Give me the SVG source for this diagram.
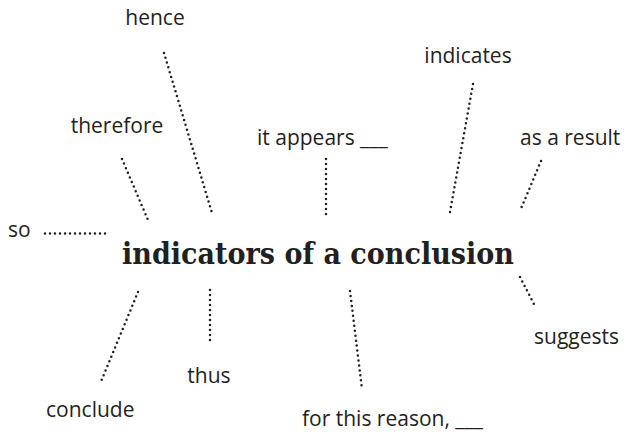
<svg xmlns="http://www.w3.org/2000/svg" width="624" height="433" viewBox="0 0 624 433">
<style>
.lbl{font-family:"Open Sans","Liberation Sans",sans-serif;font-size:21px;fill:#231f20}
.title{font-family:"DejaVu Serif","Liberation Serif",serif;font-weight:bold;font-size:29px;fill:#231f20}
.dot{stroke:#231f20;stroke-width:2.5;stroke-linecap:round;stroke-dasharray:0 5;fill:none}
</style>
<rect width="624" height="433" fill="#fff"/>
<g id="connectors">
<line class="dot" x1="164" y1="53" x2="212" y2="213"/>
<line class="dot" x1="122" y1="159" x2="148" y2="220"/>
<line class="dot" x1="326" y1="159" x2="326" y2="218"/>
<line class="dot" x1="473" y1="84" x2="450" y2="212"/>
<line class="dot" x1="541" y1="161" x2="520" y2="211"/>
<line class="dot" x1="45" y1="233.5" x2="107" y2="233.5"/>
<line class="dot" x1="138" y1="292" x2="100" y2="384"/>
<line class="dot" x1="210" y1="290" x2="210" y2="345"/>
<line class="dot" x1="350" y1="291" x2="362" y2="389"/>
<line class="dot" x1="520" y1="277" x2="536" y2="308"/>
</g>
<g id="center"><text class="title" x="122" y="264" textLength="392" lengthAdjust="spacingAndGlyphs">indicators of a conclusion</text></g>
<g id="hence"><text class="lbl" x="155" y="25" text-anchor="middle">hence</text></g>
<g id="therefore"><text class="lbl" x="117" y="133" text-anchor="middle">therefore</text></g>
<g id="it-appears"><text class="lbl" x="257" y="145">it appears ___</text></g>
<g id="indicates"><text class="lbl" x="468" y="63" text-anchor="middle">indicates</text></g>
<g id="as-a-result"><text class="lbl" x="520" y="145">as a result</text></g>
<g id="so"><text class="lbl" x="8" y="237">so</text></g>
<g id="conclude"><text class="lbl" x="46" y="417">conclude</text></g>
<g id="thus"><text class="lbl" x="209" y="383" text-anchor="middle">thus</text></g>
<g id="for-this-reason"><text class="lbl" x="302" y="426">for this reason, ___</text></g>
<g id="suggests"><text class="lbl" x="534" y="344">suggests</text></g>
</svg>
